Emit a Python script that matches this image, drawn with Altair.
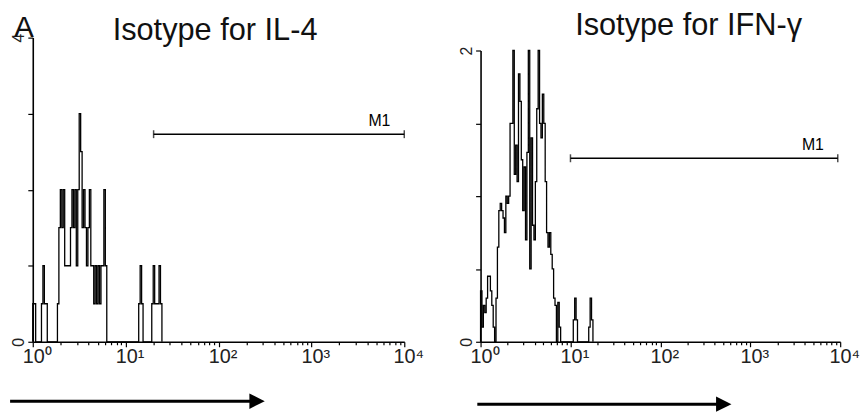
import altair as alt
import pandas as pd

# ---------------- data ----------------
CH_PER_DECADE = 64  # FACS log channels per decade

titles = ["Isotype for IL-4", "Isotype for IFN-\u03b3"]
panel_label = "A"

il4_counts = [
    0.5, 0.5, 0, 0, 0, 0, 0.5, 1, 0.5, 0.5,
    0, 0, 0, 0, 0, 0, 0, 0.5, 1.5, 2,
    1.5, 2, 1, 1, 1, 1, 1.5, 2, 1.5, 2,
    1, 2, 3, 2.5, 1.5, 2, 1.5, 1, 1.5, 2,
    1, 1, 0.5, 1, 0.5, 1, 0.5, 1, 1, 2,
    1, 0, 0, 0, 0, 0, 0, 0, 0, 0,
    0, 0, 0, 0, 0, 0, 0, 0, 0, 0,
    0, 0, 0, 0.5, 1, 0.5, 0, 0, 0, 0,
    0, 0, 0.5, 1, 0.5, 0.5, 0.5, 1, 0.5, 0,
]

ifng_counts = [
    0.35, 0.1, 0.25, 0.2, 0.3, 0.45, 0.45, 0.35, 0.25, 0.1,
    0.0, 0.3, 0.65, 0.9, 0.95, 0.9, 0.85, 0.75, 1.0, 0.95,
    1.0, 1.5, 1.5, 2.0, 1.15, 1.35, 1.1, 1.84, 1.65, 1.25,
    0.9, 1.2, 0.7, 1.3, 2.0, 0.5, 1.4, 0.8, 0.7, 1.1,
    1.6, 2.0, 1.5, 1.4, 1.7, 1.5, 1.1, 0.75, 0.65, 0.75,
    0.6, 0.5, 0.3, 0.25, 0.0, 0.27, 0.1, 0.0, 0, 0,
    0, 0, 0, 0, 0, 0, 0.15, 0.3, 0.15, 0,
    0, 0, 0, 0, 0, 0, 0, 0.1, 0.3, 0.15,
    0,
]

y_ticks = [[0, 1, 2, 3, 4], [0, 0.5, 1, 1.5, 2]]
y_max = [4, 2]
y_end_labels = [["0", "4"], ["0", "2"]]

x_ticks = [1, 2, 3, 4, 5, 6, 7, 8, 9,
           10, 20, 30, 40, 50, 60, 70, 80, 90,
           100, 200, 300, 400, 500, 600, 700, 800, 900,
           1000, 2000, 3000, 4000, 5000, 6000, 7000, 8000, 9000,
           10000]
x_major = [1, 10, 100, 1000, 10000]
x_major_labels = ["10\u2070", "10\u00b9", "10\u00b2", "10\u00b3", "10\u2074"]

# M1 marker gates: start, end (fluorescence), level (counts)
m1_start = [20, 10]
m1_end = [10000, 9400]
m1_level = [2.73, 1.26]

# arrows under each axis (fluorescence units)
arrow_start = [0.57, 0.92]
arrow_end = [260, 507]

# ---------------- layout ----------------
W = [375, 363]
H = 307
y_range_top = [0, 13]
title_pos = [(184, 2), (210, -3)]
arrow_y = [367, 370]

FONT = "Liberation Sans"

label_expr_x = " : ".join(
    f"datum.value == {v} ? '{l}'" for v, l in zip(x_major, x_major_labels)
) + " : ''"
major_test = "indexof([" + ",".join(str(v) for v in x_major) + "], datum.value) >= 0"


def panel(i, counts):
    n = len(counts)
    ch = list(range(n))
    df = pd.DataFrame({
        "x": [10 ** (c / CH_PER_DECADE) for c in ch],
        "y": counts,
    })
    df = pd.concat([pd.DataFrame({"x": [1.0], "y": [0.0]}), df], ignore_index=True)

    xscale = alt.Scale(type="log", domain=[1, 10000], nice=False)
    yscale = alt.Scale(domain=[0, y_max[i]], range=[H, y_range_top[i]], nice=False)

    xaxis = alt.Axis(
        values=x_ticks, labelExpr=label_expr_x, title=None, grid=False,
        domainColor="black", domainWidth=1.6, tickColor="black", tickWidth=1.2,
        tickSize={"condition": {"test": major_test, "value": 5}, "value": 3},
        labelFont=FONT, labelFontSize=20, labelColor="#222", labelPadding=0,
        labelOffset=4, labelOverlap=False, labelFlush=False,
    )
    lo, hi = y_end_labels[i]
    yaxis = alt.Axis(
        values=y_ticks[i],
        labelExpr=f"datum.value == 0 ? '{lo}' : datum.value == {y_max[i]} ? '{hi}' : ''",
        title=None, grid=False, domainColor="black", domainWidth=1.6,
        tickColor="black", tickWidth=1.2, tickSize=5,
        labelFont=FONT, labelFontSize=16, labelColor="#222", labelAngle=270,
        labelAlign="center", labelBaseline="bottom", labelPadding=1,
        labelOverlap=False,
    )

    hist = alt.Chart(df).mark_line(
        interpolate="step-after", color="black", strokeWidth=1.3
    ).encode(
        x=alt.X("x:Q", scale=xscale, axis=xaxis),
        y=alt.Y("y:Q", scale=yscale, axis=yaxis),
    )

    mdf = pd.DataFrame({"start": [m1_start[i]], "end": [m1_end[i]],
                        "level": [m1_level[i]], "lab": ["M1"]})
    mline = alt.Chart(mdf).mark_rule(color="black", strokeWidth=1.5).encode(
        x=alt.X("start:Q", scale=xscale), x2="end:Q",
        y=alt.Y("level:Q", scale=yscale),
    )
    tdf = pd.DataFrame({"xx": [m1_start[i], m1_end[i]],
                        "level": [m1_level[i]] * 2})
    mticks = alt.Chart(tdf).mark_tick(
        orient="vertical", size=8, thickness=1.5, color="black"
    ).encode(
        x=alt.X("xx:Q", scale=xscale), y=alt.Y("level:Q", scale=yscale),
    )
    mtext = alt.Chart(mdf).mark_text(
        align="right", baseline="alphabetic", dx=-14, dy=-8,
        font=FONT, fontSize=16, color="black",
    ).encode(
        x=alt.X("end:Q", scale=xscale), y=alt.Y("level:Q", scale=yscale),
        text="lab:N",
    )

    ttl = alt.Chart(pd.DataFrame({"t": [titles[i]]})).mark_text(
        align="center", baseline="alphabetic", font=FONT, fontSize=31,
        color="#111",
    ).encode(
        x=alt.value(title_pos[i][0]), y=alt.value(title_pos[i][1]), text="t:N",
    )

    adf = pd.DataFrame({"a0": [arrow_start[i]], "a1": [arrow_end[i]]})
    arule = alt.Chart(adf).mark_rule(color="black", strokeWidth=3).encode(
        x=alt.X("a0:Q", scale=xscale), x2="a1:Q", y=alt.value(arrow_y[i]),
    )
    ahead = alt.Chart(adf).mark_point(
        shape="M-1,-1L1,0L-1,1Z", filled=True, size=240, color="black", opacity=1,
    ).encode(
        x=alt.X("a1:Q", scale=xscale), y=alt.value(arrow_y[i]),
    )

    layers = [hist, mline, mticks, mtext, ttl, arule, ahead]
    if i == 0:
        lbl = alt.Chart(pd.DataFrame({"t": [panel_label]})).mark_text(
            align="left", baseline="alphabetic", font=FONT, fontSize=30,
            color="#111",
        ).encode(x=alt.value(-19), y=alt.value(-1), text="t:N")
        layers.append(lbl)

    return alt.layer(*layers).properties(width=W[i], height=H)


left = panel(0, il4_counts)
right = panel(1, ifng_counts)

chart = alt.hconcat(left, right, spacing=77, bounds="flush").properties(
    padding={"left": 0, "top": 0, "right": 0, "bottom": 0}
).configure_view(stroke=None)

chart.save("out.html", embed_options={"renderer": "svg", "actions": False})
